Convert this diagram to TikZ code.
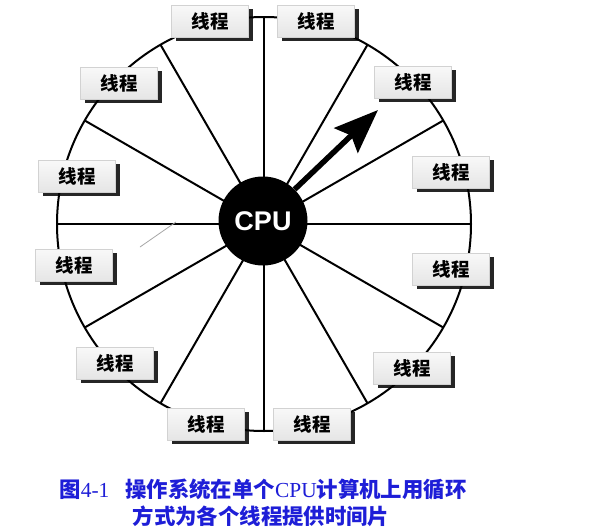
\documentclass[tikz,border=0pt]{standalone}
\usepackage{fontspec}
\setmainfont{Liberation Serif}
\newfontfamily\cjk{Noto Sans CJK SC}
\newfontfamily\lsans{Liberation Sans}
\newfontfamily\lserif{Liberation Serif}
\usetikzlibrary{arrows.meta,shadows,calc}
\definecolor{capblue}{RGB}{30,30,215}
\tikzset{
  spoke/.style={line width=2pt, black},
  rim/.style={line width=2pt, black},
  thread/.style={rectangle, minimum width=77pt, minimum height=32pt, inner sep=0pt,
    top color=gray!5, bottom color=gray!20, draw=gray!35, line width=0.3pt,
    drop shadow={shadow xshift=4pt, shadow yshift=-4pt, fill=black, opacity=0.85},
    font=\cjk\bfseries\fontsize{18.5}{18.5}\selectfont},
  cpu/.style={circle, fill=black, minimum size=89pt, inner sep=0pt,
    text=white, font=\lsans\bfseries\fontsize{27}{27}\selectfont},
  caption/.style={text=capblue, font=\fontsize{21.4}{21.4}\selectfont, inner sep=0pt, anchor=center}
}
\begin{document}
\begin{tikzpicture}[x=1pt,y=-1pt]
\useasboundingbox[fill=white] (0,0) rectangle (592,530);
\coordinate (c) at (264,224);
% rim
\draw[rim] (c) circle[radius=207pt];
% spoke ends
\foreach \a in {0,30,...,330}{
  \coordinate (s\a) at ($(c)+(\a:207pt)$);
  \draw[spoke] (c) -- (s\a);
}
% stray mark
\coordinate (m1) at (140,247);
\coordinate (m2) at (176,222);
\draw[gray!70, line width=0.8pt] (m1) -- (m2);
% CPU
\node[cpu] (cpu) at (263,221) {CPU};
% arrow
\coordinate (tip) at (378,110);
\draw[line width=5.5pt, -{Stealth[length=44pt, width=34pt, inset=7pt]}] (cpu.45) -- (tip);
% threads
\node[thread] (t105) at (210,21) {线程};
\node[thread] (t75) at (316,21) {线程};
\node[thread] (t45) at (413,82) {线程};
\node[thread] (t15) at (451,172) {线程};
\node[thread] (t345) at (451,269) {线程};
\node[thread] (t315) at (412,368) {线程};
\node[thread] (t285) at (312,424) {线程};
\node[thread] (t255) at (206,424) {线程};
\node[thread] (t225) at (115,363) {线程};
\node[thread] (t195) at (74,265) {线程};
\node[thread] (t165) at (77,176) {线程};
\node[thread] (t135) at (119,83) {线程};
% caption
\node[caption] (cap1) at (263,489) {{\cjk\bfseries 图}4-1\hspace{16pt}{\cjk\bfseries 操作系统在单个}CPU{\cjk\bfseries 计算机上用循环}};
\node[caption] (cap2) at (261,516) {{\cjk\bfseries 方式为各个线程提供时间片}};
\end{tikzpicture}
\end{document}
